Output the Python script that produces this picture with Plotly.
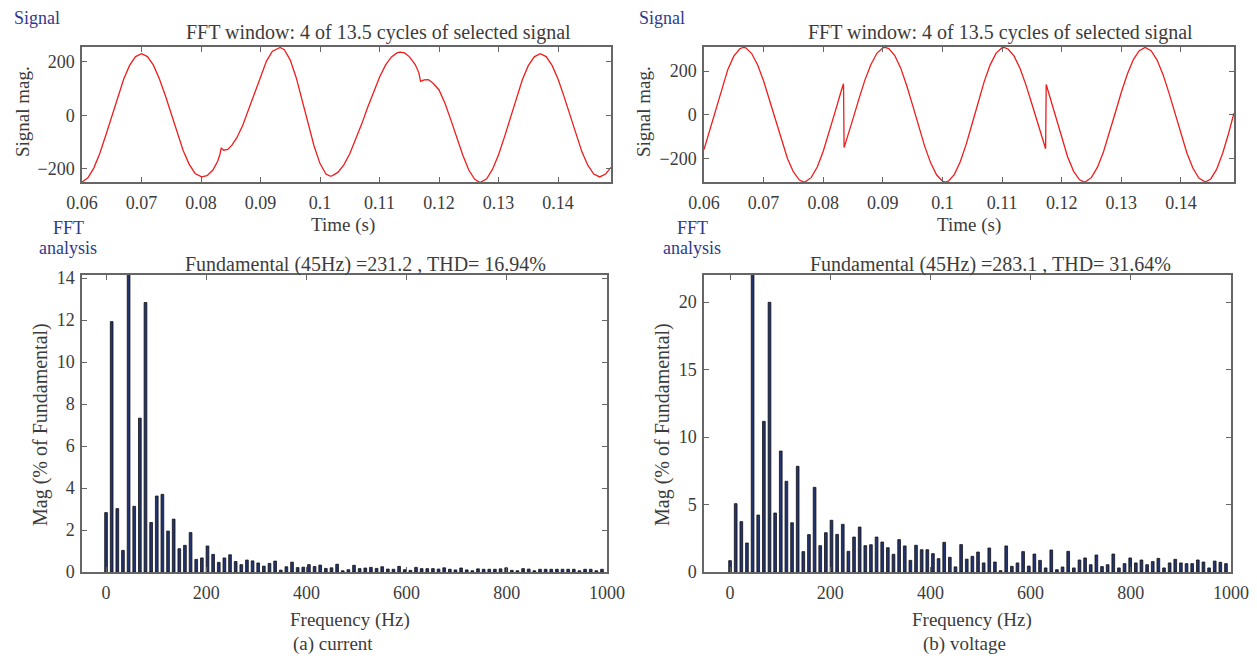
import plotly.graph_objects as go

# ---------------- data ----------------
current_t = [0.0600, 0.0610, 0.0620, 0.0630, 0.0640, 0.0650, 0.0660, 0.0670, 0.0680, 0.0690,
             0.0700, 0.0710, 0.0720, 0.0730, 0.0740, 0.0750, 0.0760, 0.0770, 0.0780, 0.0790,
             0.0801, 0.0810, 0.0820, 0.0828, 0.0832, 0.0834, 0.0838, 0.0845, 0.0852, 0.0860,
             0.0870, 0.0880, 0.0890, 0.0900, 0.0910, 0.0920, 0.0933, 0.0940, 0.0950, 0.0960,
             0.0970, 0.0980, 0.0990, 0.1000, 0.1010, 0.1017, 0.1020, 0.1030, 0.1040, 0.1050,
             0.1060, 0.1070, 0.1080, 0.1090, 0.1100, 0.1110, 0.1120, 0.1130, 0.1135, 0.1142,
             0.1150, 0.1160, 0.1166, 0.1169, 0.1175, 0.1182, 0.1190, 0.1200, 0.1210, 0.1220,
             0.1230, 0.1240, 0.1250, 0.1260, 0.1269, 0.1280, 0.1290, 0.1300, 0.1310, 0.1320,
             0.1330, 0.1340, 0.1350, 0.1360, 0.1370, 0.1380, 0.1390, 0.1400, 0.1410, 0.1420,
             0.1430, 0.1440, 0.1450, 0.1460, 0.1470, 0.1480, 0.1489]
current_v = [-250, -234, -197, -142, -75, -2, 70, 135, 187, 220,
             231, 220, 188, 137, 74, 4, -67, -132, -183, -218,
             -231, -226, -205, -172, -145, -122, -131, -128, -112, -85,
             -38, 22, 88, 150, 203, 240, 254, 246, 207, 141,
             58, -32, -115, -181, -220, -228, -227, -214, -186, -144,
             -92, -33, 29, 89, 143, 188, 219, 235, 237, 234,
             220, 190, 160, 127, 133, 134, 120, 95, 45, -18,
             -85, -150, -205, -240, -252, -238, -202, -148, -81, -7,
             67, 133, 186, 219, 231, 220, 187, 136, 71, 0,
             -71, -136, -187, -220, -231, -220, -195]

voltage_t = [0.0600, 0.0610, 0.0620, 0.0630, 0.0640, 0.0650, 0.0660, 0.0666, 0.0670, 0.0680,
             0.0690, 0.0700, 0.0710, 0.0720, 0.0730, 0.0740, 0.0750, 0.0760, 0.0768, 0.0770,
             0.0780, 0.0790, 0.0800, 0.0810, 0.0820, 0.0830, 0.0834, 0.0835, 0.0840, 0.0850,
             0.0860, 0.0870, 0.0880, 0.0890, 0.0900, 0.0904, 0.0910, 0.0920, 0.0930, 0.0940,
             0.0950, 0.0960, 0.0970, 0.0980, 0.0990, 0.1000, 0.1005, 0.1010, 0.1020, 0.1030,
             0.1040, 0.1050, 0.1060, 0.1070, 0.1080, 0.1090, 0.1100, 0.1103, 0.1110, 0.1120,
             0.1130, 0.1140, 0.1150, 0.1160, 0.1170, 0.1173, 0.1174, 0.1180, 0.1190, 0.1200,
             0.1210, 0.1220, 0.1230, 0.1238, 0.1240, 0.1250, 0.1260, 0.1270, 0.1280, 0.1290,
             0.1300, 0.1310, 0.1320, 0.1330, 0.1340, 0.1350, 0.1360, 0.1370, 0.1380, 0.1390,
             0.1400, 0.1410, 0.1420, 0.1430, 0.1441, 0.1450, 0.1460, 0.1470, 0.1480, 0.1489]
voltage_v = [-160, -69, 30, 125, 208, 269, 303, 309, 307, 281,
             228, 155, 66, -29, -121, -201, -263, -300, -309, -308,
             -288, -240, -168, -81, 14, 108, 142, -151, -109, -18,
             74, 160, 231, 282, 307, 309, 304, 272, 214, 134,
             43, -53, -143, -220, -276, -305, -309, -305, -274, -215,
             -134, -39, 59, 152, 229, 283, 308, 309, 302, 270,
             213, 137, 49, -43, -132, -156, 139, 83, -14, -110,
             -194, -260, -299, -309, -308, -288, -241, -171, -85, 10,
             103, 186, 252, 294, 309, 294, 251, 184, 99, 5,
             -90, -176, -245, -291, -309, -295, -250, -177, -85, 8]

freq_step = 11.25  # Hz (45 Hz fundamental / 4-cycle window)
current_mag = [2.83, 11.93, 3.02, 1.03, 100, 3.13, 7.33, 12.84, 2.36, 3.62,
               3.70, 1.95, 2.52, 1.11, 1.27, 1.88, 0.60, 0.67, 1.24, 0.84,
               0.46, 0.67, 0.82, 0.50, 0.35, 0.57, 0.53, 0.43, 0.28, 0.41,
               0.52, 0.09, 0.25, 0.47, 0.21, 0.23, 0.35, 0.26, 0.33, 0.17,
               0.20, 0.37, 0.06, 0.11, 0.32, 0.16, 0.19, 0.22, 0.17, 0.25,
               0.14, 0.13, 0.27, 0.11, 0.08, 0.22, 0.16, 0.16, 0.16, 0.14,
               0.20, 0.13, 0.10, 0.19, 0.10, 0.06, 0.15, 0.13, 0.13, 0.13,
               0.15, 0.20, 0.08, 0.06, 0.16, 0.14, 0.06, 0.13, 0.13, 0.13,
               0.13, 0.13, 0.13, 0.13, 0.06, 0.13, 0.13, 0.06, 0.13]
voltage_mag = [0.84, 5.06, 3.73, 2.15, 100, 4.22, 11.16, 19.98, 4.37, 8.96,
               6.72, 3.65, 7.83, 1.51, 2.77, 6.27, 1.95, 2.91, 3.83, 2.79,
               3.53, 1.53, 2.59, 3.33, 1.95, 2.02, 2.59, 2.22, 1.80, 1.31,
               2.40, 1.93, 0.86, 1.98, 1.65, 1.65, 1.36, 0.99, 2.20, 1.09,
               0.38, 2.03, 0.95, 1.16, 1.48, 0.67, 1.78, 0.74, 0.10, 1.93,
               0.42, 0.67, 1.51, 0.44, 1.33, 0.86, 0.30, 1.63, 0.17, 0.37,
               1.53, 0.30, 0.89, 1.04, 0.54, 1.26, 0.40, 0.54, 1.33, 0.30,
               0.62, 1.04, 0.67, 0.89, 0.54, 0.77, 1.01, 0.30, 0.67, 0.94,
               0.67, 0.62, 0.62, 0.89, 0.74, 0.30, 0.81, 0.72, 0.62]
freqs = [k * freq_step for k in range(len(current_mag))]

time_ticks = [0.06, 0.07, 0.08, 0.09, 0.10, 0.11, 0.12, 0.13, 0.14]
time_tick_text = ["0.06", "0.07", "0.08", "0.09", "0.1", "0.11", "0.12", "0.13", "0.14"]
freq_ticks = [0, 200, 400, 600, 800, 1000]

# ---------------- layout helpers ----------------
PAGE_W, PAGE_H = 1257, 663
BODY_MARGIN = 8
W, H = PAGE_W - 2 * BODY_MARGIN, PAGE_H - 2 * BODY_MARGIN
FONT = "Liberation Serif"
TXT = "#3c3c3c"
BLUE = "#2e3b8c"
AXC = "#666666"


def px(x):
    return (x - BODY_MARGIN) / W


def py(y):
    return 1 - (y - BODY_MARGIN) / H


fig = go.Figure()

fig.add_trace(go.Scatter(x=current_t, y=current_v, mode="lines",
                         line=dict(color="#ee1d1d", width=1.3), xaxis="x", yaxis="y", showlegend=False))
fig.add_trace(go.Scatter(x=voltage_t, y=voltage_v, mode="lines",
                         line=dict(color="#ee1d1d", width=1.3), xaxis="x2", yaxis="y2", showlegend=False))
fig.add_trace(go.Bar(x=freqs, y=current_mag, width=5.4,
                     marker=dict(color="#23336f", line=dict(color="#111111", width=0.8)),
                     xaxis="x3", yaxis="y3", showlegend=False))
fig.add_trace(go.Bar(x=freqs, y=voltage_mag, width=5.4,
                     marker=dict(color="#23336f", line=dict(color="#111111", width=0.8)),
                     xaxis="x4", yaxis="y4", showlegend=False))

common = dict(showline=True, linecolor=AXC, linewidth=1.5, mirror="ticks", ticks="inside",
              ticklen=5, tickcolor=AXC, showgrid=False, zeroline=False, automargin=False,
              tickfont=dict(family=FONT, size=18, color=TXT))
xcommon = dict(common, ticklabelstandoff=4)
ycommon = dict(common, ticklabelstandoff=2)

fig.update_layout(
    template="none",
    width=W, height=H, margin=dict(l=0, r=0, t=0, b=0, pad=0, autoexpand=False),
    paper_bgcolor="white", plot_bgcolor="white",
    xaxis=dict(domain=[px(82), px(611)], range=[0.06, 0.1489], tickvals=time_ticks,
               ticktext=time_tick_text, anchor="y", **xcommon),
    yaxis=dict(domain=[py(182), py(47)], range=[-250, 256], tickvals=[-200, 0, 200],
               anchor="x", **ycommon),
    xaxis2=dict(domain=[px(704), px(1234)], range=[0.06, 0.1489], tickvals=time_ticks,
                ticktext=time_tick_text, anchor="y2", **xcommon),
    yaxis2=dict(domain=[py(182), py(47)], range=[-309, 311], tickvals=[-200, 0, 200],
                anchor="x2", **ycommon),
    xaxis3=dict(domain=[px(82), px(607)], range=[-48, 1000], tickvals=freq_ticks,
                anchor="y3", **xcommon),
    yaxis3=dict(domain=[py(572), py(275)], range=[0, 14.15], tickvals=list(range(0, 15, 2)),
                anchor="x3", **ycommon),
    xaxis4=dict(domain=[px(704), px(1231)], range=[-52, 1000], tickvals=freq_ticks,
                anchor="y4", **xcommon),
    yaxis4=dict(domain=[py(572), py(275)], range=[0, 22], tickvals=[0, 5, 10, 15, 20],
                anchor="x4", **ycommon),
)


def ann(text, x, y, color=TXT, size=18, angle=0, xanchor="center"):
    fig.add_annotation(text=text, x=px(x), y=py(y), xref="paper", yref="paper",
                       showarrow=False, textangle=angle, xanchor=xanchor, yanchor="middle",
                       font=dict(family=FONT, size=size, color=color))


panels = [
    dict(fund="Fundamental (45Hz) =231.2 , THD= 16.94%", cap="(a) current",
         title_x=378, fund_start=183, time_x=343, freq_x=350, cap_x=333, fft_x=68,
         sig_x=12, smag_x=22, mag_x=40),
    dict(fund="Fundamental (45Hz) =283.1 , THD= 31.64%", cap="(b) voltage",
         title_x=1000, fund_start=808, time_x=969, freq_x=972, cap_x=964, fft_x=692,
         sig_x=637, smag_x=643, mag_x=662),
]
for p in panels:
    ann("Signal", p["sig_x"], 18, color=BLUE, xanchor="left")
    ann("FFT window: 4 of 13.5 cycles of selected signal", p["title_x"], 33, size=20)
    ann("Signal mag.", p["smag_x"], 112, angle=-90, size=19)
    ann("Time (s)", p["time_x"], 225, size=19)
    ann("FFT", p["fft_x"], 228, color=BLUE)
    ann("analysis", p["fft_x"], 248, color=BLUE)
    ann(p["fund"], p["fund_start"], 264, size=20, xanchor="left")
    ann("Mag (% of Fundamental)", p["mag_x"], 425, angle=-90, size=20)
    ann("Frequency (Hz)", p["freq_x"], 620, size=19)
    ann(p["cap"], p["cap_x"], 644, size=19)

fig.write_html("out.html")
